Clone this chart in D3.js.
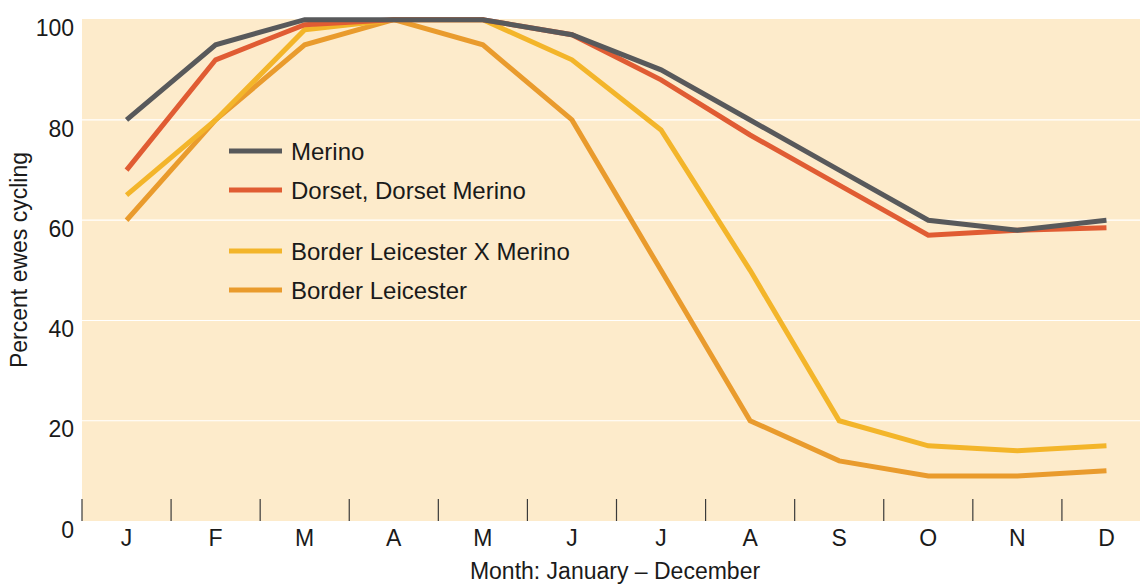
<!DOCTYPE html>
<html>
<head>
<meta charset="utf-8">
<script src="https://cdn.jsdelivr.net/npm/d3@7"></script>
<style>
  html, body { margin: 0; padding: 0; background: #ffffff; }
  svg { display: block; font-family: "Liberation Sans", Arial, Helvetica, sans-serif; }
</style>
</head>
<body>
<svg id="chart" width="1140" height="585"></svg>
<script>
const months = ["J","F","M","A","M","J","J","A","S","O","N","D"];
const yTicks = [0, 20, 40, 60, 80, 100];
const seriesNames = ["Merino", "Dorset, Dorset Merino", "Border Leicester X Merino", "Border Leicester"];
const merino = [80, 95, 100, 100, 100, 97, 90, 80, 70, 60, 58, 60];
const dorset = [70, 92, 99, 100, 100, 97, 88, 77, 67, 57, 58, 58.5];
const blxMerino = [65, 80, 98, 100, 100, 92, 78, 50, 20, 15, 14, 15];
const borderLeicester = [60, 80, 95, 100, 95, 80, 50, 20, 12, 9, 9, 10];
const colors = ["#58595b", "#e05c33", "#f3b52a", "#e99b2d"];

(function () {
const svg = d3.select("#chart");
const mLeft = 82, mRight = 1151, mTop = 19.7, mBottom = 521;
const fs = 23;

const x = d3.scaleBand().domain(d3.range(12)).range([mLeft, mRight]).padding(0);
const y = d3.scaleLinear().domain([0, 100]).range([mBottom, mTop]);

// plot background
svg.append("rect")
  .attr("x", mLeft).attr("y", y(100) - 0.7)
  .attr("width", mRight - mLeft).attr("height", mBottom - y(100) + 0.7)
  .attr("fill", "#fdebcb");

// gridlines
svg.append("g").selectAll("line")
  .data(yTicks.filter(d => d > 0 && d < 100))
  .join("line")
  .attr("x1", mLeft).attr("x2", mRight)
  .attr("y1", d => y(d)).attr("y2", d => y(d))
  .attr("stroke", "#ffffff").attr("stroke-width", 1.2);

// y tick labels
svg.append("g").selectAll("text")
  .data(yTicks)
  .join("text")
  .attr("x", 74)
  .attr("y", d => y(d) + 16.7)
  .attr("text-anchor", "end")
  .attr("font-size", fs)
  .attr("fill", "#1a1a1a")
  .text(d => d);

// x tick marks (band boundaries) inside plot
svg.append("g").selectAll("line")
  .data(d3.range(12))
  .join("line")
  .attr("x1", d => x(d)).attr("x2", d => x(d))
  .attr("y1", mBottom - 22).attr("y2", mBottom)
  .attr("stroke", "#3a3a3a").attr("stroke-width", 1.2);

// x labels
svg.append("g").selectAll("text")
  .data(months)
  .join("text")
  .attr("x", (d, i) => x(i) + x.bandwidth() / 2)
  .attr("y", 546)
  .attr("text-anchor", "middle")
  .attr("font-size", fs)
  .attr("fill", "#1a1a1a")
  .text(d => d);

// axis titles
svg.append("text")
  .attr("x", 615).attr("y", 579)
  .attr("text-anchor", "middle")
  .attr("font-size", fs)
  .attr("fill", "#1a1a1a")
  .text("Month: January – December");

svg.append("text")
  .attr("transform", "translate(27,260) rotate(-90)")
  .attr("text-anchor", "middle")
  .attr("font-size", fs)
  .attr("fill", "#1a1a1a")
  .text("Percent ewes cycling");

// lines
const data = [merino, dorset, blxMerino, borderLeicester];
const line = d3.line()
  .x((d, i) => x(i) + x.bandwidth() / 2)
  .y(d => y(d));

const drawOrder = [3, 2, 1, 0];
svg.append("g").selectAll("path")
  .data(drawOrder)
  .join("path")
  .attr("d", k => line(data[k]))
  .attr("fill", "none")
  .attr("stroke", k => colors[k])
  .attr("stroke-width", 5)
  .attr("stroke-linejoin", "miter");

// legend
const legendY = [151, 190, 251, 290];
const lg = svg.append("g");
seriesNames.forEach((name, i) => {
  lg.append("line")
    .attr("x1", 229).attr("x2", 282)
    .attr("y1", legendY[i]).attr("y2", legendY[i])
    .attr("stroke", colors[i]).attr("stroke-width", 5);
  lg.append("text")
    .attr("x", 291).attr("y", legendY[i] + 9)
    .attr("font-size", 24)
    .attr("fill", "#1a1a1a")
    .text(name);
});
})();
</script>
</body>
</html>
